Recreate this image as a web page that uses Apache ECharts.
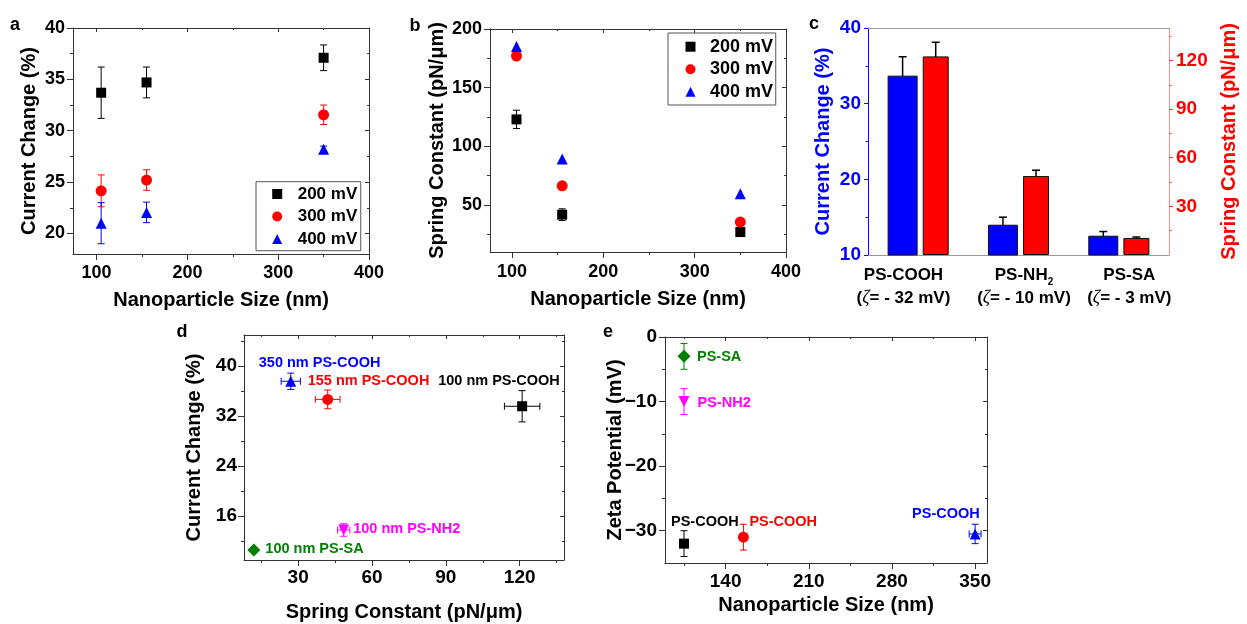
<!DOCTYPE html>
<html><head><meta charset="utf-8">
<script src="https://cdn.jsdelivr.net/npm/echarts@6/dist/echarts.min.js"></script>
<style>html,body{margin:0;padding:0;background:#fff;}#c{width:1247px;height:624px;}</style>
</head><body><div id="c"></div>
<script>
const FONT = '"Liberation Sans", Arial, Helvetica, sans-serif';

// ---------- Panel a: current change vs nanoparticle size ----------
const aSizes = [105, 155, 350];
const aCurrent200 = [33.7, 34.7, 37.1];
const aCurrent200Err = [2.5, 1.5, 1.25];
const aCurrent300 = [24.15, 25.2, 31.55];
const aCurrent300Err = [1.55, 1.0, 0.95];
const aCurrent400 = [21.0, 22.05, 28.2];
const aCurrent400Err = [2.0, 1.0, 0.3];
const aXTicks = [100, 200, 300, 400];
const aXMinor = [150, 250, 350];
const aYTicks = [20, 25, 30, 35, 40];
const aYMinor = [22.5, 27.5, 32.5, 37.5];

// ---------- Panel b: spring constant vs nanoparticle size ----------
const bSizes = [105, 155, 350];
const bSpring200 = [123, 41.8, 27];
const bSpring200Err = [7.8, 5, 3];
const bSpring300 = [177, 66.4, 35.5];
const bSpring300Err = [1, 1, 1];
const bSpring400 = [185, 89.2, 59.6];
const bSpring400Err = [0, 0, 0];
const bXTicks = [100, 200, 300, 400];
const bXMinor = [150, 250, 350];
const bYTicks = [50, 100, 150, 200];
const bYMinor = [25, 75, 125, 175];

const voltages = ['200 mV', '300 mV', '400 mV'];

// ---------- Panel c: bars per surface group ----------
const cGroups = ['PS-COOH', 'PS-NH2', 'PS-SA'];
const cZeta = ['- 32', '- 10', '- 3'];
const cCurrent = [33.7, 14.0, 12.55];
const cCurrentErr = [2.5, 1.0, 0.55];
const cSpring = [122.5, 48.7, 10.5];
const cSpringErr = [8.7, 3.6, 0.6];
const cYTicks = [10, 20, 30, 40];
const cYMinor = [15, 25, 35];
const cY2Ticks = [30, 60, 90, 120];
const cY2Minor = [15, 45, 75, 105, 135];

// ---------- Panel d: current change vs spring constant ----------
const dNames = ['100 nm PS-COOH', '155 nm PS-COOH', '350 nm PS-COOH', '100 nm PS-NH2', '100 nm PS-SA'];
const dSpring = [121, 42, 27, 48.5, 12];
const dSpringErr = [7.2, 5, 3.9, 2.5, 0];
const dCurrent = [33.6, 34.7, 37.6, 13.8, 10.6];
const dCurrentErr = [2.5, 1.5, 1.3, 1.0, 0];
const dXTicks = [30, 60, 90, 120];
const dXMinor = [15, 45, 75, 105, 135];
const dYTicks = [16, 24, 32, 40];
const dYMinor = [12, 20, 28, 36, 44];

// ---------- Panel e: zeta potential vs nanoparticle size ----------
const eNames = ['PS-COOH', 'PS-COOH', 'PS-COOH', 'PS-NH2', 'PS-SA'];
const eSize = [105, 155, 350, 105, 105];
const eSizeErr = [2, 3, 5, 0, 0];
const eZeta = [-32, -31, -30.5, -10, -3];
const eZetaErr = [2, 2, 1.5, 2, 2];
const eXTicks = [140, 210, 280, 350];
const eXMinor = [105, 175, 245, 315];
const eYTicks = [-30, -20, -10, 0];
const eYMinor = [-25, -15, -5];

// ---------- styles ----------
const voltColors = ['#000000', '#FF0000', '#0000FF'];
const voltSymbols = ['rect', 'circle', 'triangle'];
const voltSizes = [10, 11, 11];
const ptColors = ['#000000', '#FF0000', '#0000FF', '#FF00FF', '#008000'];
const ptSymbols = ['rect', 'circle', 'triangle', 'triangle', 'diamond'];
const ptRotate = [0, 0, 0, 180, 0];
const ptSizes = [10, 11, 11, 11, 13];
const dLabelOffsets = [[-84, -25], [-20, -18.5], [-32, -18.5], [9.5, -1], [11.5, -1]];
const eLabelOffsets = [[-13, -21.5], [6, -15.5], [-63, -19.5], [13.5, 1.5], [13, 0.7]];
const cLabelShift = [-14.7, 5.5, 10.5];

const grids = [], xAxes = [], yAxes = [], series = [];

function gridOf(rect) { return Object.assign({ containLabel: false, outerBoundsMode: 'none' }, rect); }
function valAx(g, pos, s) {
  return { type: 'value', gridIndex: g, position: pos, min: s.min, max: s.max,
    splitLine: { show: false }, splitArea: { show: false }, minorTick: { show: false }, minorSplitLine: { show: false },
    axisLine: { show: false, onZero: false }, axisTick: { show: false }, axisLabel: { show: false }, silent: true };
}
function mainAx(g, pos, s) {
  const a = valAx(g, pos, s);
  const lc = s.lineColor || '#333';
  a.axisLine = { show: true, onZero: false, lineStyle: { color: lc, width: 1 } };
  a.axisTick = { show: true, inside: false, length: s.tickLen || 6, customValues: s.major, lineStyle: { color: s.tickColor || lc, width: 1 } };
  a.axisLabel = { show: true, customValues: s.major, margin: s.margin, color: s.color || '#000', fontSize: s.fontSize || 18, fontWeight: 'bold', fontFamily: FONT };
  if (s.formatter) a.axisLabel.formatter = s.formatter;
  if (s.name) {
    a.name = s.name; a.nameLocation = 'middle'; a.nameGap = s.nameGap;
    a.nameRotate = (pos === 'left' || pos === 'right') ? 90 : 0;
    a.nameMoveOverlap = false;
    a.nameTextStyle = { color: s.color || '#000', fontSize: 20, fontWeight: 'bold', fontFamily: FONT };
  }
  return a;
}
function mirrorAx(g, pos, s) {
  const a = valAx(g, pos, s);
  const lc = s.lineColor || '#333';
  a.axisLine = { show: true, onZero: false, lineStyle: { color: lc, width: 1 } };
  a.axisTick = { show: true, inside: true, length: 4, customValues: s.major, lineStyle: { color: lc, width: 1 } };
  return a;
}
function minorAx(g, pos, s, inside, len) {
  const a = valAx(g, pos, s);
  a.axisTick = { show: true, inside: inside, length: len, customValues: s.minor, lineStyle: { color: s.tickColor || s.lineColor || '#333', width: 1 } };
  return a;
}
function addFramedPanel(rect, xs, ys) {
  const g = grids.length;
  grids.push(gridOf(rect), gridOf(rect));
  const xi = xAxes.length, yi = yAxes.length;
  xAxes.push(mainAx(g, 'bottom', xs), mirrorAx(g, 'top', xs), minorAx(g + 1, 'bottom', xs, false, 3), minorAx(g + 1, 'top', xs, true, 2));
  yAxes.push(mainAx(g, 'left', ys), mirrorAx(g, 'right', ys), minorAx(g + 1, 'left', ys, false, 3), minorAx(g + 1, 'right', ys, true, 2));
  return { xi, yi };
}
function errRenderer(cap, width, xOffset) {
  return function (params, api) {
    const x = api.value(0), y = api.value(1), xe = api.value(2), ye = api.value(3);
    const color = api.visual('color');
    const c = api.coord([x, y]);
    const off = xOffset || 0;
    const segs = [];
    if (ye > 0) {
      const t = api.coord([x, y + ye]), b = api.coord([x, y - ye]);
      const cx = c[0] + off;
      segs.push([cx, t[1], cx, b[1]], [cx - cap / 2, t[1], cx + cap / 2, t[1]], [cx - cap / 2, b[1], cx + cap / 2, b[1]]);
    }
    if (xe > 0) {
      const l = api.coord([x - xe, y]), r = api.coord([x + xe, y]);
      segs.push([l[0], c[1], r[0], c[1]], [l[0], c[1] - cap / 2, l[0], c[1] + cap / 2], [r[0], c[1] - cap / 2, r[0], c[1] + cap / 2]);
    }
    return { type: 'group', children: segs.map(s => ({ type: 'line', shape: { x1: s[0], y1: s[1], x2: s[2], y2: s[3] }, style: { stroke: color, lineWidth: width } })) };
  };
}
function errSeries(xi, yi, data, color, cap, width, off, opacity) {
  return { type: 'custom', xAxisIndex: xi, yAxisIndex: yi, data: data, silent: true, z: 2,
    itemStyle: { color: color, opacity: opacity == null ? 1 : opacity }, renderItem: errRenderer(cap, width, off), animation: false };
}

// ----- Panel a -----
const pa = addFramedPanel({ left: 73, top: 28, width: 296, height: 226 },
  { min: 74, max: 400, major: aXTicks, minor: aXMinor, margin: 10, name: 'Nanoparticle Size (nm)', nameGap: 36 },
  { min: 18, max: 40, major: aYTicks, minor: aYMinor, margin: 8, name: 'Current Change (%)', nameGap: 34 });
[[aCurrent200, aCurrent200Err], [aCurrent300, aCurrent300Err], [aCurrent400, aCurrent400Err]].forEach((set, k) => {
  series.push(errSeries(pa.xi, pa.yi, aSizes.map((x, i) => [x, set[0][i], 0, set[1][i]]), voltColors[k], 7, 1, 0, 0.8));
  series.push({ type: 'scatter', name: voltages[k], xAxisIndex: pa.xi, yAxisIndex: pa.yi, z: 3,
    data: aSizes.map((x, i) => [x, set[0][i]]), symbol: voltSymbols[k], symbolSize: voltSizes[k], itemStyle: { color: voltColors[k], opacity: 1 } });
});

// ----- Panel b -----
const pb = addFramedPanel({ left: 490, top: 29, width: 296, height: 223 },
  { min: 76, max: 400, major: bXTicks, minor: bXMinor, margin: 11, name: 'Nanoparticle Size (nm)', nameGap: 37 },
  { min: 10, max: 200, major: bYTicks, minor: bYMinor, margin: 8, name: 'Spring Constant (pN/μm)', nameGap: 43 });
[[bSpring200, bSpring200Err], [bSpring300, bSpring300Err], [bSpring400, bSpring400Err]].forEach((set, k) => {
  series.push(errSeries(pb.xi, pb.yi, bSizes.map((x, i) => [x, set[0][i], 0, set[1][i]]), voltColors[k], 7, 1, 0, 0.8));
  series.push({ type: 'scatter', name: voltages[k], xAxisIndex: pb.xi, yAxisIndex: pb.yi, z: 3,
    data: bSizes.map((x, i) => [x, set[0][i]]), symbol: voltSymbols[k], symbolSize: voltSizes[k], itemStyle: { color: voltColors[k], opacity: 1 } });
});

// ----- Panel c -----
const rectC = { left: 868, top: 28, width: 301, height: 227 };
const gC = grids.length;
grids.push(gridOf(rectC), gridOf(rectC));
const cxi = xAxes.length;
function cLabel(v, i) {
  const m = v.match(/^(.*?)(\d)$/);
  const first = m ? '{n|' + m[1] + '}{s|' + m[2] + '}' : '{n|' + v + '}';
  const second = '{n|(}{z|ζ}{n|= ' + cZeta[i] + ' mV)}';
  const sh = cLabelShift[i];
  if (sh < 0) return first + '{sp' + i + '|}' + '\n' + second + '{sp' + i + '|}';
  return '{sp' + i + '|}' + first + '\n' + '{sp' + i + '|}' + second;
}
const cRich = {
  n: { fontSize: 17, fontWeight: 'bold', fontFamily: FONT, color: '#000', lineHeight: 23 },
  s: { fontSize: 10, fontWeight: 'bold', fontFamily: FONT, color: '#000', lineHeight: 8, verticalAlign: 'bottom' },
  z: { fontSize: 18, fontStyle: 'italic', fontWeight: 'normal', fontFamily: '"Liberation Serif", serif', color: '#000', lineHeight: 23 }
};
cLabelShift.forEach((sh, i) => { cRich['sp' + i] = { width: Math.abs(sh) * 2, lineHeight: 23 }; });
xAxes.push({ type: 'category', gridIndex: gC, position: 'bottom', data: cGroups, boundaryGap: true,
  axisLine: { show: true, onZero: false, lineStyle: { color: '#999', width: 1 } }, axisTick: { show: false },
  splitLine: { show: false },
  axisLabel: { show: true, margin: 9, interval: 0, formatter: cLabel, rich: cRich } });
xAxes.push({ type: 'category', gridIndex: gC, position: 'top', data: cGroups, boundaryGap: true,
  axisLine: { show: true, onZero: false, lineStyle: { color: '#999', width: 1 } }, axisTick: { show: false }, axisLabel: { show: false }, splitLine: { show: false } });
xAxes.push({ type: 'value', gridIndex: gC + 1, show: false, min: 0, max: 1 });
const cyi = yAxes.length;
yAxes.push(mainAx(gC, 'left', { min: 10, max: 40, major: cYTicks, margin: 7, color: '#0000FF', lineColor: '#0000FF', fontSize: 19, tickLen: 4, name: 'Current Change (%)', nameGap: 35 }));
yAxes.push(mainAx(gC, 'right', { min: 0, max: 140, major: cY2Ticks, margin: 7, color: '#FF0000', lineColor: '#FF9090', tickColor: '#FF3030', fontSize: 19, tickLen: 4, name: 'Spring Constant (pN/μm)', nameGap: 50 }));
yAxes.push(minorAx(gC + 1, 'left', { min: 10, max: 40, minor: cYMinor, lineColor: '#0000FF' }, false, 2.5));
yAxes.push(minorAx(gC + 1, 'right', { min: 0, max: 140, minor: cY2Minor, lineColor: '#FF9090', tickColor: '#FF5050' }, false, 2.5));
const BW1 = 30, BW2 = 26, GAP = 0.17;
const groupW = BW1 * (1 + GAP) + BW2;
const off1 = -groupW / 2 + BW1 / 2, off2 = -groupW / 2 + BW1 * (1 + GAP) + BW2 / 2;
series.push({ type: 'bar', name: 'Current Change', xAxisIndex: cxi, yAxisIndex: cyi, data: cCurrent, barWidth: BW1, barGap: (GAP * 100) + '%',
  itemStyle: { color: '#0000FF', borderColor: '#111', borderWidth: 1, opacity: 1 }, z: 2 });
series.push({ type: 'bar', name: 'Spring Constant', xAxisIndex: cxi, yAxisIndex: cyi + 1, data: cSpring, barWidth: BW2, barGap: (GAP * 100) + '%',
  itemStyle: { color: '#FF0000', borderColor: '#111', borderWidth: 1, opacity: 1 }, z: 2 });
series.push(errSeries(cxi, cyi, cCurrent.map((v, i) => [i, v, 0, cCurrentErr[i]]), '#000', 8, 1.5, off1));
series.push(errSeries(cxi, cyi + 1, cSpring.map((v, i) => [i, v, 0, cSpringErr[i]]), '#000', 8, 1.5, off2));

// ----- Panel d -----
const fmtMinus = v => String(v).replace('-', '\u2212');
const pd = addFramedPanel({ left: 244, top: 335, width: 320, height: 225 },
  { min: 8, max: 138, major: dXTicks, minor: dXMinor, margin: 8, fontSize: 19, name: 'Spring Constant (pN/μm)', nameGap: 42 },
  { min: 9, max: 45, major: dYTicks, minor: dYMinor, margin: 7, fontSize: 19, name: 'Current Change (%)', nameGap: 40 });
dNames.forEach((nm, i) => {
  series.push(errSeries(pd.xi, pd.yi, [[dSpring[i], dCurrent[i], dSpringErr[i], dCurrentErr[i]]], ptColors[i], 7, 1, 0, 0.8));
  series.push({ type: 'scatter', name: 'd' + i, xAxisIndex: pd.xi, yAxisIndex: pd.yi, z: 3,
    data: [[dSpring[i], dCurrent[i]]], symbol: ptSymbols[i], symbolRotate: ptRotate[i], symbolSize: ptSizes[i], itemStyle: { color: ptColors[i], opacity: 1 },
    label: { show: true, formatter: nm, position: 'inside', align: 'left', verticalAlign: 'middle', offset: dLabelOffsets[i],
      color: ptColors[i], opacity: 1, fontSize: 14.5, fontWeight: 'bold', fontFamily: FONT } });
});

// ----- Panel e -----
const pe = addFramedPanel({ left: 665, top: 337, width: 322, height: 226 },
  { min: 89, max: 360, major: eXTicks, minor: eXMinor, margin: 9, fontSize: 19, name: 'Nanoparticle Size (nm)', nameGap: 32 },
  { min: -35, max: 0, major: eYTicks, minor: eYMinor, margin: 8, fontSize: 19, formatter: fmtMinus, name: 'Zeta Potential (mV)', nameGap: 40 });
eNames.forEach((nm, i) => {
  series.push(errSeries(pe.xi, pe.yi, [[eSize[i], eZeta[i], eSizeErr[i], eZetaErr[i]]], ptColors[i], 7, 1, 0, 0.8));
  series.push({ type: 'scatter', name: 'e' + i, xAxisIndex: pe.xi, yAxisIndex: pe.yi, z: 3,
    data: [[eSize[i], eZeta[i]]], symbol: ptSymbols[i], symbolRotate: ptRotate[i], symbolSize: ptSizes[i], itemStyle: { color: ptColors[i], opacity: 1 },
    label: { show: true, formatter: nm, position: 'inside', align: 'left', verticalAlign: 'middle', offset: eLabelOffsets[i],
      color: ptColors[i], opacity: 1, fontSize: 14.5, fontWeight: 'bold', fontFamily: FONT } });
});

const legendBase = { orient: 'vertical', data: voltages, itemWidth: 10, itemHeight: 10, itemGap: 4.5, selectedMode: false,
  borderColor: '#555', borderWidth: 1, borderRadius: 0, backgroundColor: '#fff', itemStyle: { opacity: 1 } };
const legends = [
  Object.assign({}, legendBase, { left: 256, top: 181.7, padding: [3.3, 3.5, 2.7, 16.2],
    textStyle: { fontSize: 17, fontWeight: 'bold', color: '#000', fontFamily: FONT, lineHeight: 18, padding: [0, 0, 0, 10.5] } }),
  Object.assign({}, legendBase, { left: 668, top: 33, padding: [4.7, 2.7, 4.3, 17.5],
    textStyle: { fontSize: 18, fontWeight: 'bold', color: '#000', fontFamily: FONT, lineHeight: 18, padding: [0, 0, 0, 9.5] } })
];

const letters = [['a', 15, 25], ['b', 415, 26], ['c', 814, 24], ['d', 182, 332.5], ['e', 608, 332.5]];
const graphics = letters.map(l => ({ type: 'text', x: l[1], y: l[2], z: 10,
  style: { text: l[0], fontSize: 18, fontWeight: 'bold', fontFamily: FONT, fill: '#000', align: 'center', verticalAlign: 'middle' } }));

const chart = echarts.init(document.getElementById('c'), null, { renderer: 'canvas', width: 1247, height: 624 });
chart.setOption({
  backgroundColor: '#fff', animation: false,
  grid: grids, xAxis: xAxes, yAxis: yAxes, series: series, legend: legends, graphic: graphics,
  tooltip: { show: false }
});
</script></body></html>
